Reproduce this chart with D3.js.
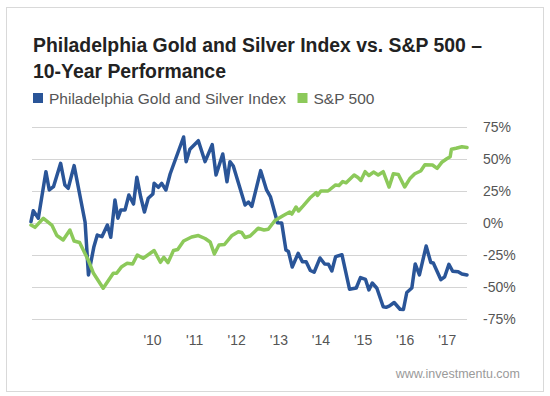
<!DOCTYPE html>
<html>
<head>
<meta charset="utf-8">
<script src="https://cdn.jsdelivr.net/npm/d3@7"></script>
<style>
  body { margin: 0; background: #fff; }
  svg { display: block; font-family: "Helvetica Neue", Helvetica, "Liberation Sans", Arial, sans-serif; }
</style>
</head>
<body>
<svg id="chart" width="550" height="396"></svg>
<script>
// Data (decimal year, % change since start)
const goldYears = [2007.126, 2007.18, 2007.30, 2007.48, 2007.56, 2007.66, 2007.83, 2007.93, 2008.01, 2008.15,
  2008.41, 2008.49, 2008.62, 2008.70, 2008.81, 2008.94, 2009.02, 2009.12, 2009.19, 2009.26,
  2009.36, 2009.45, 2009.56, 2009.64, 2009.73, 2009.82, 2009.91, 2010.02, 2010.05, 2010.15,
  2010.23, 2010.33, 2010.43, 2010.75, 2010.81, 2010.90, 2011.10, 2011.26, 2011.43, 2011.52,
  2011.68, 2011.78, 2011.85, 2011.93, 2012.21, 2012.29, 2012.37, 2012.58, 2012.72, 2012.81,
  2012.98, 2013.08, 2013.18, 2013.24, 2013.33, 2013.47, 2013.57, 2013.66, 2013.76, 2013.85,
  2013.99, 2014.10, 2014.19, 2014.27, 2014.36, 2014.51, 2014.69, 2014.85, 2014.95, 2015.07,
  2015.15, 2015.23, 2015.34, 2015.49, 2015.56, 2015.64, 2015.75, 2015.89, 2015.97, 2016.05,
  2016.17, 2016.25, 2016.35, 2016.51, 2016.62, 2016.68, 2016.86, 2016.95, 2017.05, 2017.14,
  2017.27, 2017.36, 2017.48];
const goldValues = [1.0, 9.6, 3.7, 40.1, 25.8, 28.4, 46.6, 29.7, 27.1, 44.8,
  0.8, -40.6, -18.5, -9.4, -10.7, -1.6, -11.2, 18.0, 3.7, 10.2,
  10.2, 21.9, 14.8, 35.7, 20.5, 8.6, 19.3, 22.7, 31.0, 27.9,
  31.0, 25.8, 38.3, 67.2, 47.9, 57.6, 64.3, 47.9, 61.2, 37.5,
  53.9, 32.3, 47.9, 44.5, 14.1, 16.4, 13.0, 40.9, 25.8, 20.7,
  0.2, 0.0, -21.1, -22.3, -34.4, -23.7, -30.2, -30.2, -37.1, -38.5,
  -27.3, -32.0, -32.2, -37.5, -26.3, -24.8, -51.7, -50.8, -42.6, -44.1,
  -52.3, -46.9, -51.0, -65.4, -65.9, -64.8, -62.1, -67.4, -67.6, -54.3,
  -50.8, -32.0, -40.6, -18.0, -30.9, -31.3, -44.3, -42.0, -32.3, -37.7,
  -38.0, -39.8, -40.6];

const spYears = [2007.126, 2007.22, 2007.42, 2007.62, 2007.74, 2007.89, 2008.05, 2008.15, 2008.28, 2008.49,
  2008.61, 2008.84, 2009.08, 2009.16, 2009.28, 2009.41, 2009.54, 2009.65, 2009.79, 2010.05,
  2010.20, 2010.28, 2010.38, 2010.51, 2010.61, 2010.75, 2010.94, 2011.10, 2011.26, 2011.38,
  2011.48, 2011.59, 2011.72, 2011.89, 2012.05, 2012.13, 2012.21, 2012.33, 2012.52, 2012.66,
  2012.76, 2012.92, 2013.12, 2013.27, 2013.32, 2013.42, 2013.48, 2013.59, 2013.75, 2013.90,
  2013.93, 2014.01, 2014.18, 2014.36, 2014.44, 2014.53, 2014.61, 2014.80, 2014.89, 2014.96,
  2015.06, 2015.15, 2015.26, 2015.37, 2015.49, 2015.63, 2015.73, 2015.85, 2016.00, 2016.12,
  2016.24, 2016.38, 2016.48, 2016.66, 2016.77, 2016.89, 2017.00, 2017.08, 2017.11, 2017.22,
  2017.36, 2017.48];
const spValues = [-1.6, -3.4, 3.7, -1.6, -9.8, -13.3, -5.5, -14.1, -15.2, -29.3,
  -39.3, -51.0, -39.3, -39.3, -34.1, -31.5, -32.0, -25.0, -27.6, -21.5,
  -30.7, -26.8, -30.9, -21.5, -20.7, -14.1, -10.9, -9.8, -12.1, -14.8,
  -24.2, -17.2, -16.8, -10.0, -6.8, -7.4, -11.3, -10.2, -4.1, -5.5,
  -4.9, 2.0, 5.9, 8.6, 7.0, 12.5, 9.4, 13.4, 19.5, 23.8,
  21.5, 25.0, 25.0, 29.7, 29.3, 32.4, 31.4, 37.5, 35.5, 33.2,
  40.1, 37.1, 39.8, 37.5, 40.1, 28.1, 38.4, 37.9, 28.1, 34.5,
  38.5, 40.6, 45.5, 45.3, 42.7, 47.7, 50.2, 51.8, 57.6, 58.4,
  59.6, 59.0];

const yearTicks = [2010, 2011, 2012, 2013, 2014, 2015, 2016, 2017];
const percentTicks = [75, 50, 25, 0, -25, -50, -75];

const seriesNames = ['Philadelphia Gold and Silver Index', 'S&P 500'];
const seriesColors = ['#2a5598', '#8cc95a'];

const svg = d3.select('#chart');

// Card border
svg.append('rect')
  .attr('x', 6.5).attr('y', 7.5)
  .attr('width', 537).attr('height', 384)
  .attr('fill', '#fff')
  .attr('stroke', '#d9d9d9');

// Title
const title = svg.append('text')
  .attr('x', 33)
  .attr('fill', '#222')
  .style('font-size', '19.4px')
  .style('font-weight', 'bold');
title.append('tspan').attr('x', 33).attr('y', 52)
  .text('Philadelphia Gold and Silver Index vs. S&P 500 –');
title.append('tspan').attr('x', 33).attr('y', 78)
  .text('10-Year Performance');

// Legend
const legendX = [33, 297.5];
seriesNames.forEach((name, i) => {
  svg.append('rect')
    .attr('x', legendX[i]).attr('y', 93)
    .attr('width', 10).attr('height', 10)
    .attr('fill', seriesColors[i]);
  svg.append('text')
    .attr('x', legendX[i] + 16).attr('y', 103.5)
    .attr('fill', '#555')
    .style('font-size', '15.5px')
    .text(name);
});

// Scales
const x = d3.scaleLinear()
  .domain([2007.126, 2017.48])
  .range([31, 467]);
const y = d3.scaleLinear()
  .domain([-75, 75])
  .range([319, 127]);

// Grid
svg.append('g')
  .selectAll('line')
  .data(percentTicks)
  .join('line')
  .attr('x1', 32).attr('x2', 467)
  .attr('y1', d => Math.round(y(d)) + 0.5)
  .attr('y2', d => Math.round(y(d)) + 0.5)
  .attr('stroke', '#d4d4d4');

// Right axis labels
const yAxis = d3.axisRight(y)
  .tickValues(percentTicks)
  .tickSize(0)
  .tickPadding(0)
  .tickFormat(d => d + '%');
const yAxisG = svg.append('g')
  .attr('transform', 'translate(483,0)')
  .call(yAxis);
yAxisG.select('.domain').remove();
yAxisG.selectAll('text')
  .style('font-size', '14px')
  .style('font-family', null)
  .attr('fill', '#555');

// Bottom axis labels
const xAxis = d3.axisBottom(x)
  .tickValues(yearTicks)
  .tickSize(0)
  .tickPadding(0)
  .tickFormat(d => "'" + String(d).slice(2));
const xAxisG = svg.append('g')
  .attr('transform', 'translate(0,335)')
  .call(xAxis);
xAxisG.select('.domain').remove();
xAxisG.selectAll('text')
  .style('font-size', '14px')
  .style('font-family', null)
  .attr('fill', '#555');

// Lines
const line = d3.line()
  .x(d => x(d[0]))
  .y(d => y(d[1]));

const series = [
  d3.zip(goldYears, goldValues),
  d3.zip(spYears, spValues)
];

series.forEach((pts, i) => {
  svg.append('path')
    .datum(pts)
    .attr('d', line)
    .attr('fill', 'none')
    .attr('stroke', seriesColors[i])
    .attr('stroke-width', 3.5)
    .attr('stroke-linejoin', 'round')
    .attr('stroke-linecap', 'round');
});

// Source
svg.append('text')
  .attr('x', 520).attr('y', 378)
  .attr('text-anchor', 'end')
  .attr('fill', '#9a9a9a')
  .style('font-size', '12.5px')
  .text('www.investmentu.com');
</script>
</body>
</html>
